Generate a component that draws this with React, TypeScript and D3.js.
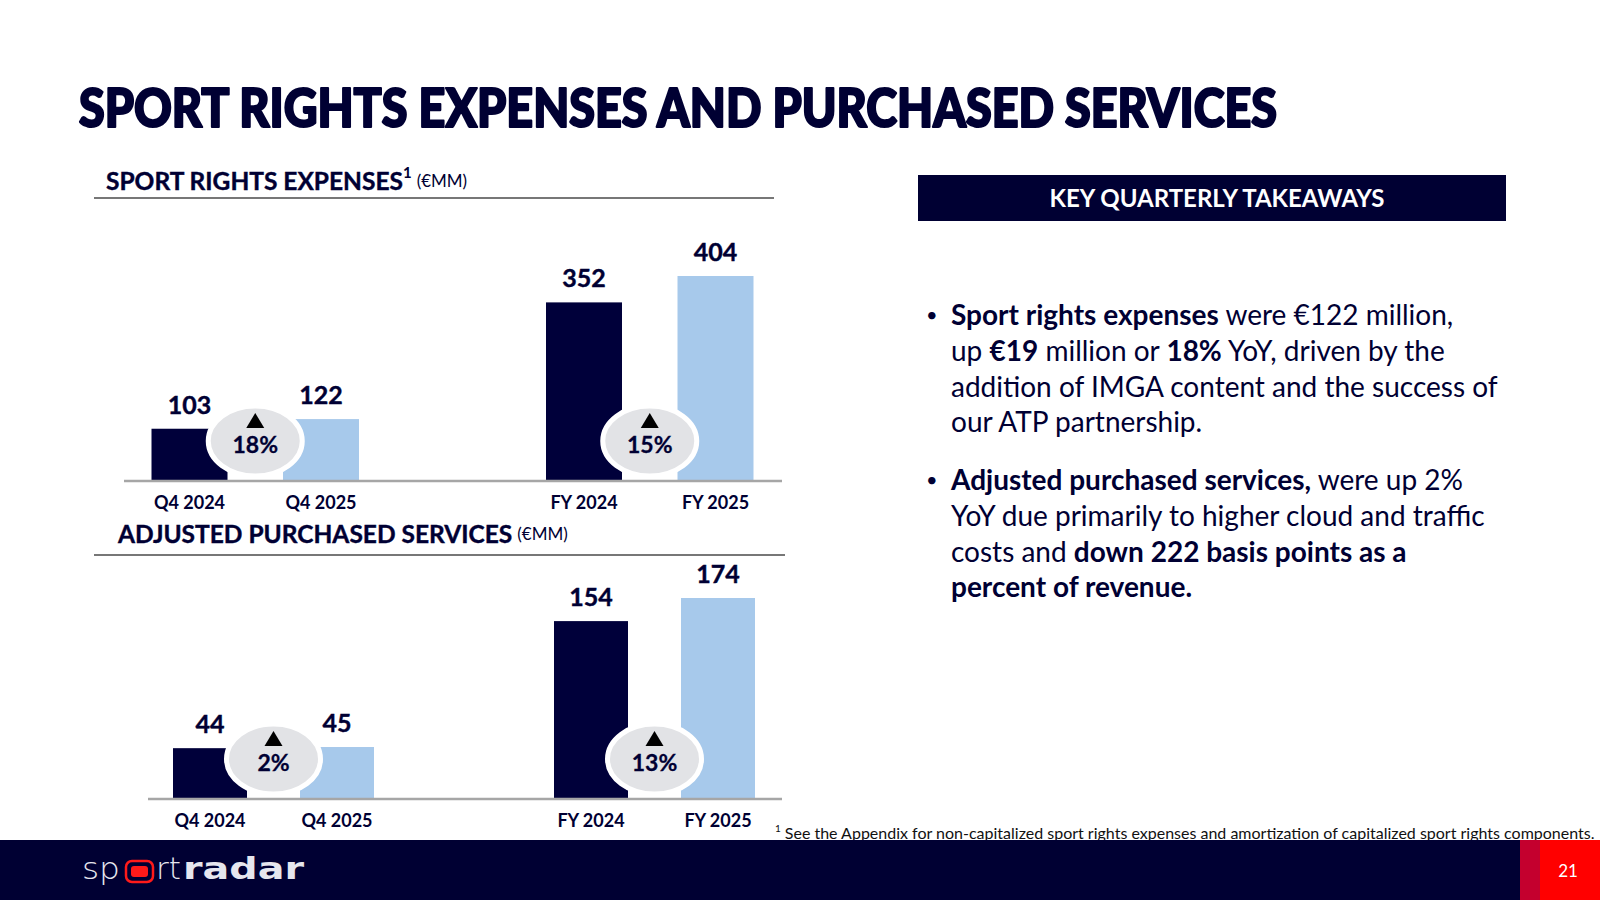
import React from 'react';
import * as d3 from 'd3';

// Values in €MM
const periods = ['Q4 2024', 'Q4 2025', 'FY 2024', 'FY 2025'];
const sportRightsExpenses = [103, 122, 352, 404];
const purchasedServices = [44, 45, 154, 174];
const sportRightsGrowth = ['18%', '15%'];
const purchasedGrowth = ['2%', '13%'];

// Bullet copy: each line is a list of [text, bold] runs
const bulletLines: [string, boolean][][][] = [
  [
    [['Sport rights expenses', true], [' were €122 million,', false]],
    [['up ', false], ['€19', true], [' million or ', false], ['18%', true], [' YoY, driven by the', false]],
    [['addition of IMGA content and the success of', false]],
    [['our ATP partnership.', false]],
  ],
  [
    [['Adjusted purchased services,', true], [' were up 2%', false]],
    [['YoY due primarily to higher cloud and traffic', false]],
    [['costs and ', false], ['down 222 basis points as a', true]],
    [['percent of revenue.', true]],
  ],
];

const NAVY = '#000033';
const BAR_DARK = '#00003a';
const BAR_LIGHT = '#a7c9eb';
const FONT = 'Lato, "Open Sans", sans-serif';

type PanelProps = {
  title: string;
  sup?: string;
  titleX: number;
  titleY: number;
  ruleY: number;
  ruleX2: number;
  values: number[];
  growth: string[];
  baseline: number;
  maxHeight: number;
  axisX1: number;
  xRange: [number, number];
  barWidth: number;
};

const BarPanel = (p: PanelProps) => {
  // five slots: the two pairs with an empty spacer between them
  const slots = [periods[0], periods[1], 'gap', periods[2], periods[3]];
  const x = d3.scalePoint<string>().domain(slots).range(p.xRange);
  const y = d3
    .scaleLinear()
    .domain([0, d3.max(p.values) as number])
    .range([p.baseline, p.baseline - p.maxHeight]);

  const pairs = [
    [periods[0], periods[1]],
    [periods[2], periods[3]],
  ];
  const tri = (cx: number, cy: number) =>
    `M${cx},${cy - 8} L${cx + 9},${cy + 7} L${cx - 9},${cy + 7} Z`;

  return (
    <g>
      <text x={p.titleX} y={p.titleY} fill={NAVY} fontFamily={FONT} dominantBaseline="central">
        <tspan fontWeight={700} fontSize={24.5} stroke={NAVY} strokeWidth={0.4}>{p.title}</tspan>
        {p.sup && (
          <tspan fontWeight={700} fontSize={15} dy={-8}>{p.sup}</tspan>
        )}
        <tspan fontSize={17} dx={5} dy={p.sup ? 8 : 0}>(€MM)</tspan>
      </text>
      <line x1={94} x2={p.ruleX2} y1={p.ruleY} y2={p.ruleY} stroke="#4a4a4a" strokeWidth={1.5} />

      {periods.map((d, i) => (
        <g key={d}>
          <rect
            x={(x(d) as number) - p.barWidth / 2}
            y={y(p.values[i])}
            width={p.barWidth}
            height={p.baseline - y(p.values[i])}
            fill={i % 2 === 0 ? BAR_DARK : BAR_LIGHT}
          />
          <text
            x={x(d)}
            y={y(p.values[i]) - 25}
            textAnchor="middle"
            dominantBaseline="central"
            fontFamily={FONT}
            fontWeight={700}
            fontSize={25}
            stroke={NAVY}
            strokeWidth={0.4}
            fill={NAVY}
          >
            {p.values[i]}
          </text>
          <text
            x={x(d)}
            y={p.baseline + 21}
            textAnchor="middle"
            dominantBaseline="central"
            fontFamily={FONT}
            fontWeight={700}
            fontSize={18}
            fill={NAVY}
          >
            {d}
          </text>
        </g>
      ))}

      {pairs.map(([a, b], i) => {
        const cx = ((x(a) as number) + (x(b) as number)) / 2;
        const cy = p.baseline - 40;
        return (
          <g key={a}>
            <ellipse cx={cx} cy={cy} rx={47} ry={35} fill="#e2e3e6" stroke="#fff" strokeWidth={5} />
            <path d={tri(cx, cy - 20)} fill="#000" />
            <text
              x={cx}
              y={cy + 3}
              textAnchor="middle"
              dominantBaseline="central"
              fontFamily={FONT}
              fontWeight={700}
              fontSize={23}
              stroke={NAVY}
              strokeWidth={0.3}
              fill={NAVY}
            >
              {p.growth[i]}
            </text>
          </g>
        );
      })}

      <line x1={p.axisX1} x2={782} y1={p.baseline} y2={p.baseline} stroke="#a6a6a6" strokeWidth={2.5} />
    </g>
  );
};

const App = () => {
  const lineH = 35.8;
  const bulletTops = [314, 479];

  return (
    <div style={{ position: 'absolute', left: 0, top: 0, width: 1600, height: 900 }}>
      <svg width={1600} height={900} viewBox="0 0 1600 900" style={{ display: 'block', background: '#fff' }}>
        <text
          x={79}
          y={127}
          fontFamily={'"Lato Black", ' + FONT}
          fontWeight={900}
          fontSize={53}
          fill={NAVY}
          stroke={NAVY}
          strokeWidth={2.2}
          strokeLinejoin="round"
          textLength={1198}
          lengthAdjust="spacingAndGlyphs"
        >
          SPORT RIGHTS EXPENSES AND PURCHASED SERVICES
        </text>

        <BarPanel
          title="SPORT RIGHTS EXPENSES"
          sup="1"
          titleX={106}
          titleY={180}
          ruleY={198}
          ruleX2={774}
          values={sportRightsExpenses}
          growth={sportRightsGrowth}
          baseline={481}
          maxHeight={205}
          axisX1={124}
          xRange={[189.5, 715.5]}
          barWidth={76}
        />
        <BarPanel
          title="ADJUSTED PURCHASED SERVICES"
          titleX={118}
          titleY={533}
          ruleY={555}
          ruleX2={785}
          values={purchasedServices}
          growth={purchasedGrowth}
          baseline={799}
          maxHeight={201}
          axisX1={148}
          xRange={[210, 718]}
          barWidth={74}
        />

        {/* takeaways panel */}
        <rect x={918} y={175} width={588} height={46} fill={NAVY} />
        <text
          x={1217}
          y={197}
          textAnchor="middle"
          dominantBaseline="central"
          fontFamily={FONT}
          fontWeight={700}
          fontSize={24}
          fill="#fff"
        >
          KEY QUARTERLY TAKEAWAYS
        </text>

        {bulletLines.map((lines, bi) => (
          <g key={bi}>
            <text x={926} y={bulletTops[bi]} dominantBaseline="central" fontFamily={FONT} fontSize={20} fill={NAVY}>
              •
            </text>
            {lines.map((runs, li) => (
              <text
                key={li}
                x={951}
                y={bulletTops[bi] + li * lineH}
                dominantBaseline="central"
                fontFamily={FONT}
                fontSize={28}
                fill={NAVY}
              >
                {runs.map(([t, b], ri) => (
                  <tspan key={ri} fontWeight={b ? 700 : 400}>
                    {t}
                  </tspan>
                ))}
              </text>
            ))}
          </g>
        ))}

        <text x={775} y={832} dominantBaseline="central" fontFamily={FONT} fontSize={16} fill="#111">
          <tspan fontSize={10} dy={-4}>1</tspan>
          <tspan dx={4} dy={4}>
            See the Appendix for non-capitalized sport rights expenses and amortization of capitalized sport rights components.
          </tspan>
        </text>

        {/* footer band */}
        <rect x={0} y={840} width={1600} height={60} fill={NAVY} />
        <rect x={1520} y={840} width={20} height={60} fill="#c4002e" />
        <rect x={1540} y={840} width={60} height={60} fill="#ff0000" />
        <text
          x={1568}
          y={870}
          textAnchor="middle"
          dominantBaseline="central"
          fontFamily={FONT}
          fontSize={17}
          fill="#fff"
        >
          21
        </text>

        {/* wordmark */}
        <g fill="#e6e6ee" fontFamily='"DejaVu Sans", sans-serif'>
          <text x={82} y={879} fontSize={30} fontWeight={300} textLength={38} lengthAdjust="spacingAndGlyphs">
            sp
          </text>
          <rect x={126} y={861} width={27} height={21} rx={6} fill="none" stroke="#ff1a1a" strokeWidth={2.5} />
          <rect x={131} y={866} width={17} height={11} rx={3} fill="#ff1a1a" />
          <text x={156} y={879} fontSize={30} fontWeight={300} textLength={25} lengthAdjust="spacingAndGlyphs">
            rt
          </text>
          <text x={183} y={879} fontSize={30} fontWeight={700} textLength={121} lengthAdjust="spacingAndGlyphs">
            radar
          </text>
        </g>
      </svg>
    </div>
  );
};

export default App;
